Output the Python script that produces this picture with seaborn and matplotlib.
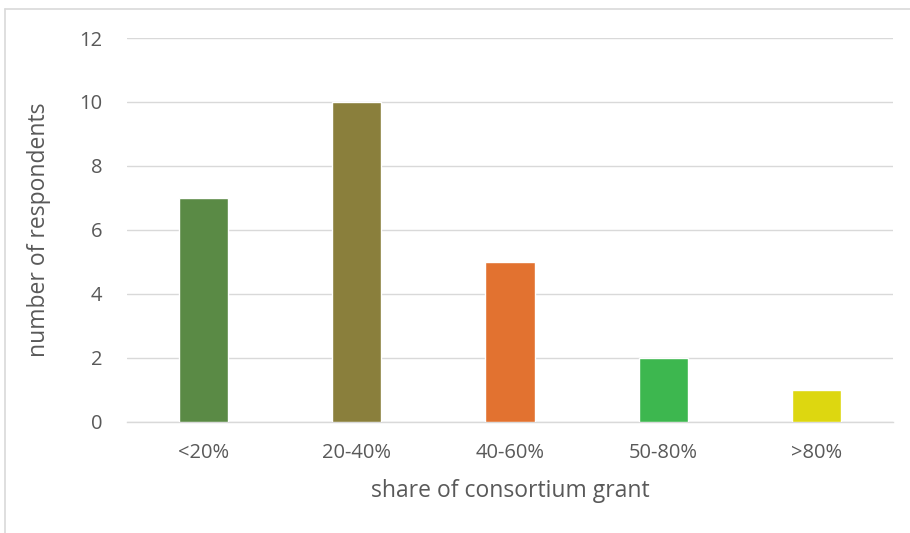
import matplotlib
matplotlib.use('Agg')
import matplotlib.pyplot as plt
import seaborn as sns
import pandas as pd
from matplotlib.lines import Line2D

# chart data
categories = ['<20%', '20-40%', '40-60%', '50-80%', '>80%']
respondents = [7, 10, 5, 2, 1]
bar_colors = ['#5A8A45', '#8A7F3C', '#E27230', '#3DB74F', '#DDD710']
y_ticks = [0, 2, 4, 6, 8, 10, 12]

sns.set_theme(style='white')
plt.rcParams['font.family'] = ['Open Sans', 'DejaVu Sans']

df = pd.DataFrame({'share': categories, 'n': respondents})

fig = plt.figure(figsize=(9.1, 5.33), dpi=100)
ax = fig.add_axes([0.1396, 0.2083, 0.8417, 0.7204])

sns.barplot(data=df, x='share', y='n', hue='share', palette=bar_colors,
            order=categories, hue_order=categories, legend=False,
            width=0.32, saturation=1, ax=ax, zorder=3)

ax.set_ylim(0, 12)
ax.set_xlim(-0.5, len(categories) - 0.5)
ax.set_yticks(y_ticks)
ax.yaxis.grid(True, color='#D9D9D9', linewidth=1.0, zorder=0)
ax.set_axisbelow(True)
for side in ['top', 'right', 'left']:
    ax.spines[side].set_visible(False)
ax.spines['bottom'].set_color('#D9D9D9')
ax.spines['bottom'].set_linewidth(1.0)

ax.tick_params(axis='both', colors='#595959', labelsize=14.5, length=0)
ax.tick_params(axis='y', pad=18)
ax.tick_params(axis='x', pad=15)
ax.set_xlabel('share of consortium grant', fontsize=16.5, color='#595959', labelpad=12)
ax.set_ylabel('number of respondents', fontsize=16.5, color='#595959', labelpad=20)

# outer chart border (top and left visible)
border = dict(color='#D9D9D9', linewidth=1.2, transform=fig.transFigure)
fig.add_artist(Line2D([5 / 910, 1], [1 - 9 / 533, 1 - 9 / 533], **border))
fig.add_artist(Line2D([5 / 910, 5 / 910], [0, 1 - 9 / 533], **border))

fig.savefig('out.png', dpi=100)
